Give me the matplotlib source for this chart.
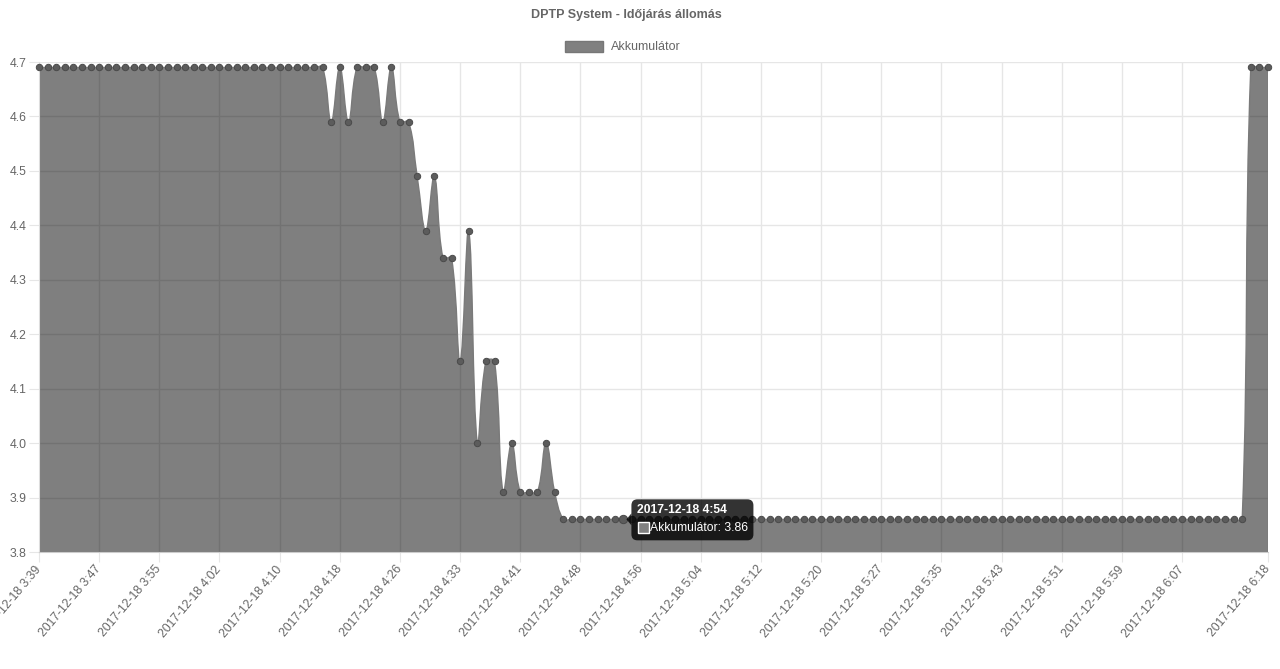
import matplotlib.pyplot as plt
import matplotlib.transforms as mtransforms
from matplotlib.path import Path
from matplotlib.patches import PathPatch, Rectangle, FancyBboxPatch, Polygon
import numpy as np

plt.rcParams['font.family'] = ['Liberation Sans', 'DejaVu Sans']

# Akkumulátor feszültség, egy érték mérésenként
akku = [
    4.69, 4.69, 4.69, 4.69, 4.69, 4.69, 4.69, 4.69, 4.69, 4.69, 4.69, 4.69,
    4.69, 4.69, 4.69, 4.69, 4.69, 4.69, 4.69, 4.69, 4.69, 4.69, 4.69, 4.69,
    4.69, 4.69, 4.69, 4.69, 4.69, 4.69, 4.69, 4.69, 4.69, 4.69, 4.59, 4.69,
    4.59, 4.69, 4.69, 4.69, 4.59, 4.69, 4.59, 4.59, 4.49, 4.39, 4.49, 4.34,
    4.34, 4.15, 4.39, 4.00, 4.15, 4.15, 3.91, 4.00, 3.91, 3.91, 3.91, 4.00,
    3.91, 3.86, 3.86, 3.86, 3.86, 3.86, 3.86, 3.86, 3.86, 3.86, 3.86, 3.86,
    3.86, 3.86, 3.86, 3.86, 3.86, 3.86, 3.86, 3.86, 3.86, 3.86, 3.86, 3.86,
    3.86, 3.86, 3.86, 3.86, 3.86, 3.86, 3.86, 3.86, 3.86, 3.86, 3.86, 3.86,
    3.86, 3.86, 3.86, 3.86, 3.86, 3.86, 3.86, 3.86, 3.86, 3.86, 3.86, 3.86,
    3.86, 3.86, 3.86, 3.86, 3.86, 3.86, 3.86, 3.86, 3.86, 3.86, 3.86, 3.86,
    3.86, 3.86, 3.86, 3.86, 3.86, 3.86, 3.86, 3.86, 3.86, 3.86, 3.86, 3.86,
    3.86, 3.86, 3.86, 3.86, 3.86, 3.86, 3.86, 3.86, 3.86, 4.69, 4.69, 4.69,
]

# megjelenített x feliratok (kategória index -> időpont)
felirat_idx = [0, 7, 14, 21, 28, 35, 42, 49, 56, 63, 70, 77, 84, 91, 98,
               105, 112, 119, 126, 133, 143]
felirat_ido = ['3:39', '3:47', '3:55', '4:02', '4:10', '4:18', '4:26', '4:33',
               '4:41', '4:48', '4:56', '5:04', '5:12', '5:20', '5:27', '5:35',
               '5:43', '5:51', '5:59', '6:07', '6:18']
datum = '2017-12-18'

y_ticks = [3.8, 3.9, 4.0, 4.1, 4.2, 4.3, 4.4, 4.5, 4.6, 4.7]

# tooltip
tip_idx = 68
tip_ido = '4:54'

szurke = '#666666'

fig = plt.figure(figsize=(12.8, 6.69), dpi=100)
ax = fig.add_axes([39 / 1280, 117 / 669, 1229 / 1280, 490 / 669])

n = len(akku)
x = np.arange(n)
y = np.array(akku)

ax.set_xlim(0, n - 1)
ax.set_ylim(y_ticks[0], y_ticks[-1])

# Chart.js szerű spline (tension 0.4), pixelben számolva
pts = ax.transData.transform(np.column_stack([x, y]))
tension = 0.4
cp_elo = np.zeros_like(pts)
cp_uto = np.zeros_like(pts)
top_px = ax.transData.transform((0, y_ticks[-1]))[1]
bot_px = ax.transData.transform((0, y_ticks[0]))[1]
for i in range(n):
    cur = pts[i]
    prev = pts[i - 1] if i > 0 else cur
    nxt = pts[i + 1] if i < n - 1 else cur
    d01 = np.hypot(*(cur - prev))
    d12 = np.hypot(*(nxt - cur))
    s = d01 + d12
    s01 = d01 / s if s > 0 else 0
    s12 = d12 / s if s > 0 else 0
    cp_elo[i] = cur - tension * s01 * (nxt - prev)
    cp_uto[i] = cur + tension * s12 * (nxt - prev)
cp_elo[:, 1] = np.clip(cp_elo[:, 1], bot_px, top_px)
cp_uto[:, 1] = np.clip(cp_uto[:, 1], bot_px, top_px)

verts = [pts[0]]
codes = [Path.MOVETO]
for i in range(1, n):
    verts += [cp_uto[i - 1], cp_elo[i], pts[i]]
    codes += [Path.CURVE4] * 3
inv = ax.transData.inverted()
curve_data = inv.transform(np.array(verts))

fill_verts = np.vstack([curve_data, [[n - 1, y_ticks[0]], [0, y_ticks[0]], [0, y_ticks[0]]]])
fill_codes = codes + [Path.LINETO, Path.LINETO, Path.CLOSEPOLY]
ax.add_patch(PathPatch(Path(fill_verts, fill_codes), facecolor=(0, 0, 0, 0.5),
                       edgecolor='none', zorder=2))
ax.add_patch(PathPatch(Path(curve_data, codes), facecolor='none',
                       edgecolor='#7a7a7a', lw=1, zorder=3))

ax.plot(x, y, 'o', ms=4.6, mfc='#5c5c5c', mec='#4a4a4a', mew=0.7,
        zorder=4, clip_on=False)
ax.plot([tip_idx], [akku[tip_idx]], 'o', ms=6, mfc='#5c5c5c', mec='#4a4a4a',
        mew=0.7, zorder=4)

# tengelyek, rács
ax.set_xticks(felirat_idx)
ax.set_xticklabels([f'{datum} {t}' for t in felirat_ido], rotation=50,
                   ha='right', va='center', rotation_mode='anchor')
ax.set_yticks(y_ticks)
ax.set_yticklabels([f'{v:.1f}' for v in y_ticks])
ax.grid(True, color='#e6e6e6', lw=1, zorder=1)
ax.set_axisbelow(True)
ax.tick_params(axis='both', colors='#e6e6e6', labelcolor=szurke,
               labelsize=8.8, length=7)
ax.tick_params(axis='x', pad=4)
ax.tick_params(axis='y', pad=2)
for side in ['top', 'right']:
    ax.spines[side].set_visible(False)
ax.spines['left'].set_color('#dddddd')
ax.spines['bottom'].set_color('#cccccc')

# cím és jelmagyarázat
fig.text(626 / 1280, 1 - 15 / 669, 'DPTP System - Időjárás állomás',
         ha='center', va='center', fontsize=9, fontweight='bold', color=szurke)
ident = mtransforms.IdentityTransform()
fig.add_artist(Rectangle((565, 669 - 52), 38, 11, facecolor='#808080',
                         edgecolor='#777777', lw=1, transform=ident))
fig.text(611, 669 - 46.5, 'Akkumulátor', ha='left', va='center',
         fontsize=9, color=szurke, transform=ident)

# tooltip
px, py = ax.transData.transform((tip_idx, akku[tip_idx]))
fig.add_artist(Polygon([[px + 8, py + 6], [px + 3, py], [px + 8, py - 6]],
                       closed=True, facecolor=(0, 0, 0, 0.8), edgecolor='none',
                       transform=ident))
fig.add_artist(FancyBboxPatch((px + 8, py - 21), 122, 41,
                              boxstyle='round,pad=0,rounding_size=6',
                              facecolor=(0, 0, 0, 0.8), edgecolor='none',
                              transform=ident))
fig.text(px + 14, py + 9, f'{datum} {tip_ido}', ha='left', va='center',
         fontsize=8.7, fontweight='bold', color='white', transform=ident)
fig.add_artist(Rectangle((px + 15, py - 14), 11, 11, facecolor='#808080',
                         edgecolor='white', lw=1, transform=ident))
fig.text(px + 27, py - 8.5, f'Akkumulátor: {akku[tip_idx]:.2f}', ha='left',
         va='center', fontsize=8.7, color='white', transform=ident)

fig.savefig('out.png', dpi=100)
